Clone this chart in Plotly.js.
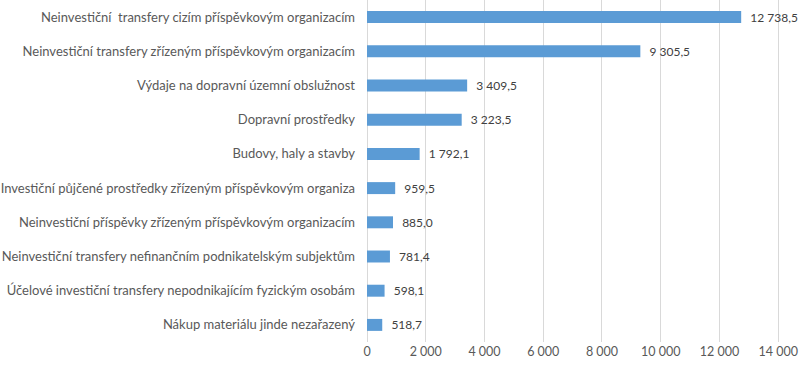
<!DOCTYPE html>
<html>
<head>
<meta charset="utf-8">
<script src="https://cdn.plot.ly/plotly-3.0.1.min.js"></script>
<style>html,body{margin:0;padding:0;background:#fff;}#chart{width:800px;height:365px;}</style>
</head>
<body>
<div id="chart"></div>
<script>
const categories = [
  "Neinvestiční  transfery cizím příspěvkovým organizacím",
  "Neinvestiční transfery zřízeným příspěvkovým organizacím",
  "Výdaje na dopravní územní obslužnost",
  "Dopravní prostředky",
  "Budovy, haly a stavby",
  "Investiční půjčené prostředky zřízeným příspěvkovým organiza",
  "Neinvestiční příspěvky zřízeným příspěvkovým organizacím",
  "Neinvestiční transfery nefinančním podnikatelským subjektům",
  "Účelové investiční transfery nepodnikajícím fyzickým osobám",
  "Nákup materiálu jinde nezařazený"
];
const values = [12738.5, 9305.5, 3409.5, 3223.5, 1792.1, 959.5, 885.0, 781.4, 598.1, 518.7];
const tickValues = [0, 2000, 4000, 6000, 8000, 10000, 12000, 14000];

const font = "Lato, Liberation Sans, Arial, sans-serif";
const trace = {
  type: "bar",
  orientation: "h",
  x: values,
  y: categories,
  marker: {color: "#5B9BD5", line: {color: "#5B9BD5", width: 0}},
  texttemplate: "\u00a0\u00a0%{x:,.1f}",
  textposition: "outside",
  constraintext: "none",
  textfont: {family: font, size: 12, color: "#404040"},
  cliponaxis: false,
  hoverinfo: "none"
};
const layout = {
  width: 800, height: 365,
  margin: {l: 367, r: 20, t: 0, b: 23},
  paper_bgcolor: "#fff", plot_bgcolor: "#fff",
  separators: ", ",
  bargap: 0.65,
  showlegend: false,
  font: {family: font, size: 13, color: "#595959"},
  xaxis: {
    range: [0, 14060],
    tickvals: tickValues,
    tickformat: ",d",
    ticklabeloverflow: "allow",
    showgrid: true, gridcolor: "#d9d9d9", gridwidth: 1,
    zeroline: true, zerolinecolor: "#d9d9d9", zerolinewidth: 1,
    showline: false, ticks: "",
    tickfont: {family: font, size: 12.5, color: "#595959"},
    fixedrange: true
  },
  yaxis: {
    autorange: "reversed",
    type: "category",
    showgrid: false, zeroline: false, showline: false, ticks: "",
    ticklabelstandoff: 11,
    tickfont: {family: font, size: 13, color: "#595959"},
    fixedrange: true
  }
};
Plotly.newPlot("chart", [trace], layout, {staticPlot: true, displayModeBar: false});
</script>
</body>
</html>
